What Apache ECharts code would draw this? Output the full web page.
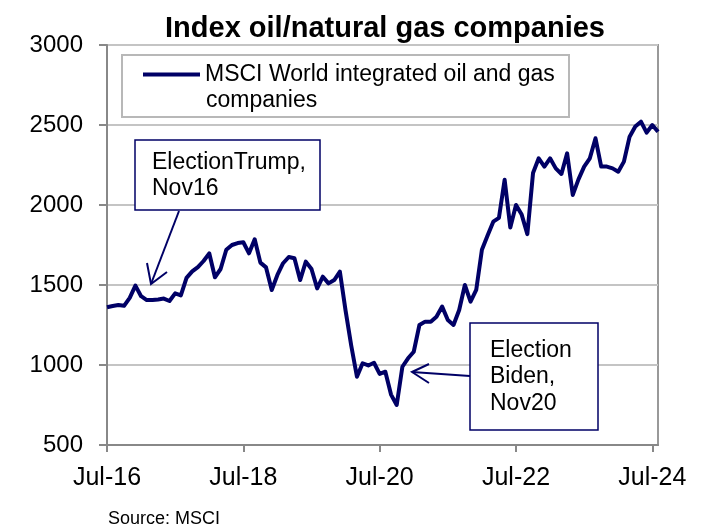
<!DOCTYPE html>
<html><head><meta charset="utf-8">
<script src="https://cdn.jsdelivr.net/npm/echarts@6/dist/echarts.min.js"></script>
<style>html,body{margin:0;padding:0;background:#fff}#c{width:707px;height:530px}</style>
</head><body><div id="c"></div>
<script>
// ---- data ----
const seriesName = 'MSCI World integrated oil and gas companies';
const firstMonth = { year: 2016, month: 6 }; // Jul-16 (0-based month)
const monthNames = ['Jan','Feb','Mar','Apr','May','Jun','Jul','Aug','Sep','Oct','Nov','Dec'];
const indexValues = [
  1361,1369,1375,1370,1420,1496,1430,1406,1406,1410,1415,1400,
  1448,1435,1545,1585,1612,1650,1698,1548,1600,1720,1750,1762,
  1767,1698,1786,1640,1610,1469,1563,1636,1675,1667,1531,1646,
  1600,1479,1552,1510,1531,1583,1340,1120,927,1011,997,1014,
  944,958,815,750,989,1042,1083,1250,1271,1271,1302,1365,
  1281,1250,1344,1500,1396,1469,1720,1810,1896,1920,2158,1860,
  2000,1940,1818,2200,2292,2240,2292,2229,2194,2323,2063,2160,
  2240,2292,2417,2240,2240,2229,2208,2271,2427,2490,2521,2452,
  2500,2458
];
const categories = indexValues.map((_, i) => {
  const m = firstMonth.month + i;
  return monthNames[m % 12] + '-' + String(firstMonth.year + Math.floor(m / 12)).slice(2);
});
const tickLabels = ['Jul-16','Jul-18','Jul-20','Jul-22','Jul-24'];
const yTicks = [500, 1000, 1500, 2000, 2500, 3000];

// ---- chart ----
const FONT = '"Liberation Sans", Arial, sans-serif';
const NAVY = '#000066';
const chart = echarts.init(document.getElementById('c'), null, { renderer: 'canvas' });
chart.setOption({
  animation: false,
  backgroundColor: '#fff',
  title: {
    text: 'Index oil/natural gas companies',
    left: 380, top: 9, textAlign: 'center',
    textStyle: { fontSize: 29, fontWeight: 'bold', fontFamily: FONT, color: '#000' }
  },
  legend: {
    left: 143, top: 63, padding: 0,
    icon: 'rect', itemWidth: 57, itemHeight: 4,
    selectedMode: false,
    formatter: () => 'MSCI World integrated oil and gas',
    textStyle: { fontSize: 23, fontFamily: FONT, color: '#000' }
  },
  grid: {
    left: 107, right: 49, top: 45, bottom: 85,
    outerBoundsMode: 'none',
    show: true, borderColor: '#999', borderWidth: 2, backgroundColor: 'transparent'
  },
  xAxis: {
    type: 'category', data: categories, boundaryGap: false,
    axisLine: { lineStyle: { color: '#888', width: 2 } },
    axisTick: { show: true, length: 7, interval: (i, v) => tickLabels.includes(v), lineStyle: { color: '#888', width: 2 } },
    axisLabel: { interval: (i, v) => tickLabels.includes(v), margin: 21, fontSize: 25, fontFamily: FONT, color: '#000' },
    splitLine: { show: false }
  },
  yAxis: {
    type: 'value', min: yTicks[0], max: yTicks[yTicks.length - 1], interval: 500,
    axisLine: { show: true, lineStyle: { color: '#888', width: 2 } },
    axisTick: { show: true, length: 8, lineStyle: { color: '#888', width: 2 } },
    axisLabel: { margin: 24, fontSize: 24, fontFamily: FONT, color: '#000', formatter: v => String(v) },
    splitLine: { show: true, lineStyle: { color: '#c4c4c4', width: 2 } }
  },
  series: [{
    name: seriesName, type: 'line', data: indexValues,
    showSymbol: false, symbol: 'none',
    lineStyle: { color: NAVY, width: 4, join: 'round' },
    itemStyle: { color: NAVY },
    z: 3
  }],
  graphic: [
    { type: 'rect', z: 1, shape: { x: 122, y: 55, width: 447, height: 62 },
      style: { fill: '#fff', stroke: '#b8b8b8', lineWidth: 2 } },
    { type: 'text', z: 5, style: { text: 'companies', x: 206, y: 101, fontSize: 23, fontFamily: FONT, fill: '#000', verticalAlign: 'middle' } },
    // Trump annotation
    { type: 'rect', z: 5, shape: { x: 135, y: 140, width: 185, height: 70 },
      style: { fill: '#fff', stroke: NAVY, lineWidth: 1.5 } },
    { type: 'text', z: 6, style: { text: 'ElectionTrump,\nNov16', x: 152, y: 150, lineHeight: 26, fontSize: 23, fontFamily: FONT, fill: '#000' } },
    { type: 'polyline', z: 6, shape: { points: [[179, 211], [151, 284]] }, style: { stroke: NAVY, lineWidth: 2, fill: null } },
    { type: 'polyline', z: 6, shape: { points: [[147, 263], [151, 284], [167, 272]] }, style: { stroke: NAVY, lineWidth: 2, fill: null } },
    // Biden annotation
    { type: 'rect', z: 5, shape: { x: 470, y: 323, width: 128, height: 107 },
      style: { fill: '#fff', stroke: NAVY, lineWidth: 1.5 } },
    { type: 'text', z: 6, style: { text: 'Election\nBiden,\nNov20', x: 490, y: 337, lineHeight: 26.5, fontSize: 23, fontFamily: FONT, fill: '#000' } },
    { type: 'polyline', z: 6, shape: { points: [[470, 376], [412, 372]] }, style: { stroke: NAVY, lineWidth: 2, fill: null } },
    { type: 'polyline', z: 6, shape: { points: [[429, 364], [412, 372], [429, 383]] }, style: { stroke: NAVY, lineWidth: 2, fill: null } },
    // source
    { type: 'text', z: 5, style: { text: 'Source: MSCI', x: 108, y: 519, fontSize: 18, fontFamily: FONT, fill: '#000', verticalAlign: 'middle' } }
  ]
});
</script>
</body></html>
